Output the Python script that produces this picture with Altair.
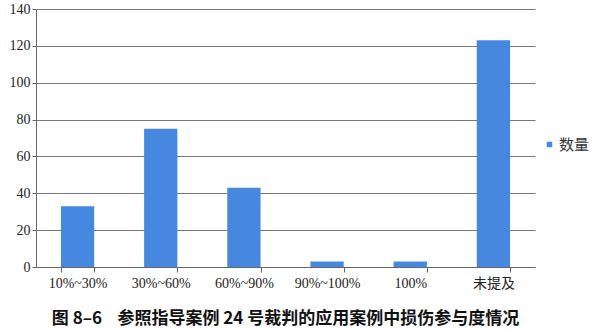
import altair as alt
import pandas as pd

categories = ["10%~30%", "30%~60%", "60%~90%", "90%~100%", "100%", "未提及"]
values = [33, 75, 43, 3, 3, 123]
series = ["数量"] * len(categories)

df = pd.DataFrame({"类别": categories, "数量": values, "系列": series})

font = "'Liberation Serif', 'Times New Roman', 'Noto Sans CJK SC', serif"

chart = alt.Chart(df).mark_bar(color="#4688e0").encode(
    x=alt.X("类别:N", sort=categories, title=None,
            scale=alt.Scale(paddingInner=0.6, paddingOuter=0.3),
            axis=alt.Axis(labelAngle=0, labelFont=font, labelFontSize=14,
                          labelColor="#222", domainColor="#666", tickColor="#666",
                          tickBand="extent", tickSize=5, labelPadding=4)),
    y=alt.Y("数量:Q", title=None,
            scale=alt.Scale(domain=[0, 140]),
            axis=alt.Axis(values=[0, 20, 40, 60, 80, 100, 120, 140],
                          labelFont=font, labelFontSize=14, labelColor="#222",
                          domainColor="#666", tickColor="#666", tickSize=4,
                          gridColor="#777", gridWidth=1, labelPadding=2)),
    fill=alt.Fill("系列:N", scale=alt.Scale(range=["#4688e0"]),
                  legend=alt.Legend(title=None, orient="none", legendX=506, legendY=128,
                                    symbolType="square", symbolSize=30, labelOffset=2,
                                    labelFont="Noto Sans CJK SC", labelFontSize=15,
                                    labelColor="#333")),
).properties(
    width=499, height=258,
    autosize="none",
    padding={"left": 36, "top": 9, "right": 58, "bottom": 64},
    title=alt.Title("图 8–6\u00a0\u00a0\u00a0\u00a0参照指导案例 24 号裁判的应用案例中损伤参与度情况",
                    orient="bottom", anchor="middle", offset=21,
                    font="Noto Sans CJK SC", fontSize=17, fontWeight="bold",
                    color="#111"),
).configure_view(stroke=None)

chart.save("out.html", embed_options={"renderer": "svg", "actions": False})
